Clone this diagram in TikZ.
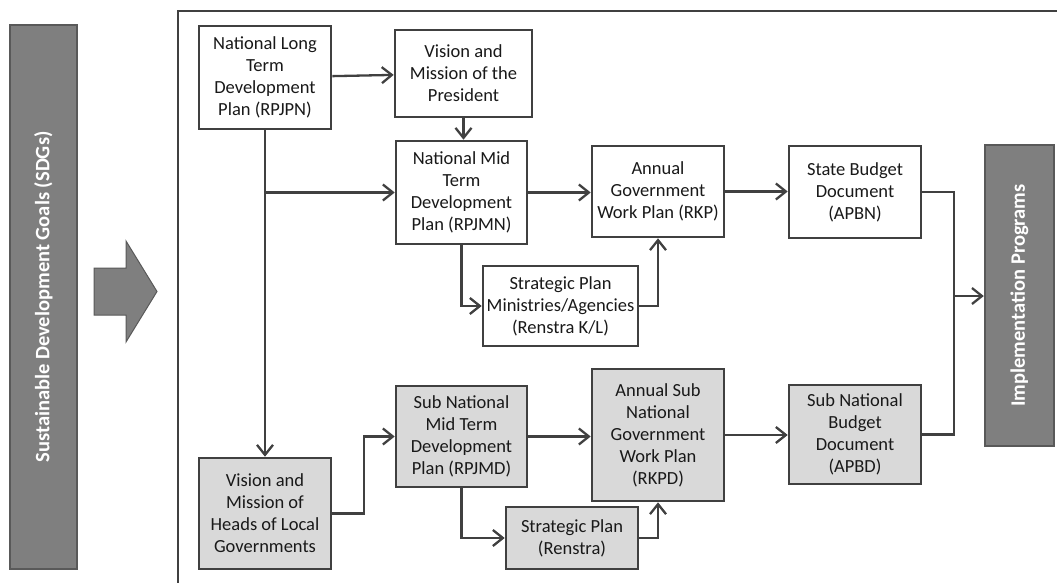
\documentclass[tikz,border=0pt]{standalone}
\usepackage{fontspec}
\setmainfont{Carlito}
\usetikzlibrary{arrows.meta}
\definecolor{linec}{HTML}{404040}
\definecolor{darkfill}{HTML}{7F7F7F}
\definecolor{darkline}{HTML}{595959}
\definecolor{lightfill}{HTML}{D9D9D9}
\tikzset{
  box/.style={draw=linec, line width=2.6pt, fill=white, align=center, inner sep=2pt,
    font=\fontsize{18.5}{22}\selectfont, text=black!90},
  gbox/.style={box, fill=lightfill},
  bar/.style={draw=darkline, line width=2.4pt, fill=darkfill, text=white,
    font=\fontsize{20.5}{24}\selectfont\bfseries, rotate=90, inner sep=0pt},
  conn/.style={draw=linec, line width=2.3pt},
  arr/.style={conn, -{Straight Barb[length=10pt, width=16pt, line width=2.3pt]}}
}
\begin{document}
\begin{tikzpicture}[x=1pt, y=-1pt]
\useasboundingbox (0,0) rectangle (1057,583);
% outer frame (open at right and bottom)
\draw[conn] (178,583) -- (178,11) -- (1057,11);
% SDG bar
\node[bar, minimum width=544pt, minimum height=67pt] (sdg) at (43.5,297) {Sustainable Development Goals (SDGs)};
% big block arrow
\draw[draw=darkline, line width=1pt, fill=darkfill] (94,268) -- (126,268) -- (126,241) -- (157,291.5) -- (126,342) -- (126,315) -- (94,315) -- cycle;
% implementation bar
\node[bar, minimum width=301pt, minimum height=69pt] (impl) at (1019.5,295.5) {Implementation Programs};
% national boxes
\node[box, minimum width=132pt, minimum height=103pt] (rpjpn) at (265,77.5) {National Long\\Term\\Development\\Plan (RPJPN)};
\node[box, minimum width=137pt, minimum height=87pt] (visp) at (463.5,73.5) {Vision and\\Mission of the\\President};
\node[box, minimum width=131pt, minimum height=103pt] (rpjmn) at (461.5,192.5) {National Mid\\Term\\Development\\Plan (RPJMN)};
\node[box, minimum width=132pt, minimum height=91pt] (rkp) at (658,191.5) {Annual\\Government\\Work Plan (RKP)};
\node[box, minimum width=132pt, minimum height=92pt] (apbn) at (855,192) {State Budget\\Document\\(APBN)};
\node[box, minimum width=155pt, minimum height=80pt] (kl) at (560.5,306) {Strategic Plan\\Ministries/Agencies\\(Renstra K/L)};
% sub national boxes
\node[gbox, minimum width=132pt, minimum height=111pt] (visl) at (265,513.5) {Vision and\\Mission of\\Heads of Local\\Governments};
\node[gbox, minimum width=131pt, minimum height=101pt] (rpjmd) at (461.5,436.5) {Sub National\\Mid Term\\Development\\Plan (RPJMD)};
\node[gbox, minimum width=132pt, minimum height=132pt] (rkpd) at (658,435) {Annual Sub\\National\\Government\\Work Plan\\(RKPD)};
\node[gbox, minimum width=132pt, minimum height=62pt] (renstra) at (572,538) {Strategic Plan\\(Renstra)};
\node[gbox, minimum width=132pt, minimum height=99pt] (apbd) at (855,434.5) {Sub National\\Budget\\Document\\(APBD)};
% connectors
\draw[arr] (rpjpn) -- (visp);
\draw[arr] (visp.south) -- (visp.south |- rpjmn.north);
\draw[arr] (rpjpn.south) -- (visl.north);
\draw[arr] (rpjpn.south |- rpjmn.west) -- (rpjmn.west);
\draw[arr] (rpjmn.east) -- (rpjmn.east -| rkp.west);
\draw[arr] (rkp.east) -- (rkp.east -| apbn.west);
\draw[arr] (rpjmn.south) |- (kl.west);
\draw[arr] (kl.east) -| (rkp.south);
\coordinate (jx) at (954,296);
\draw[conn] (apbn.east) -| (jx |- apbd.east) -- (apbd.east);
\draw[arr] (jx) -- (jx -| impl.north);
\draw[arr] (visl.east) -- ++(32,0) |- (rpjmd.west);
\draw[arr] (rpjmd.east) -- (rpjmd.east -| rkpd.west);
\draw[arr] (rkpd.east) -- (rkpd.east -| apbd.west);
\draw[arr] (rpjmd.south) |- (renstra.west);
\draw[arr] (renstra.east) -| (rkpd.south);
\end{tikzpicture}
\end{document}
